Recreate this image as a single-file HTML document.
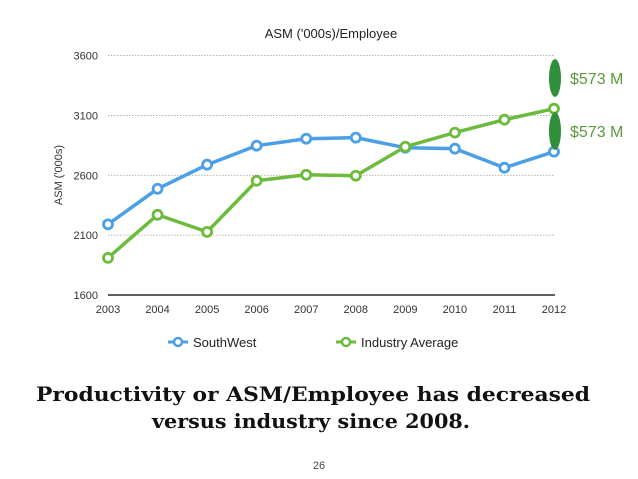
<!DOCTYPE html>
<html><head><meta charset="utf-8"><style>
body{margin:0;background:#fff;font-family:"Liberation Sans",sans-serif}
svg{display:block}
</style></head><body>
<svg width="638" height="479" viewBox="0 0 638 479">
<text x="331" y="38" font-size="13" text-anchor="middle" fill="#222">ASM ('000s)/Employee</text>
<text transform="translate(62,175) rotate(-90)" font-size="11" text-anchor="middle" fill="#333">ASM ('000s)</text>
<g id="grid"></g>
<g id="ylab"></g>
<g id="xlab"></g>
<line x1="108" y1="295" x2="555" y2="295" stroke="#000" stroke-width="1.2"/>
<g id="series"></g>
<ellipse cx="555" cy="78" rx="6" ry="19" fill="#2f8f3a"/>
<ellipse cx="555" cy="131" rx="6" ry="19" fill="#2f8f3a"/>
<text x="570" y="84" font-size="16" fill="#5a9a3a">$573 M</text>
<text x="570" y="137" font-size="16" fill="#5a9a3a">$573 M</text>
<g>
<line x1="168" y1="342" x2="188" y2="342" stroke="#4a9fe6" stroke-width="3"/>
<circle cx="178" cy="342" r="4" fill="#fff" stroke="#4a9fe6" stroke-width="2.5"/>
<text x="193" y="347" font-size="13" fill="#222">SouthWest</text></g>
<g>
<line x1="336" y1="342" x2="356" y2="342" stroke="#6cbb3c" stroke-width="3"/>
<circle cx="346" cy="342" r="4" fill="#fff" stroke="#6cbb3c" stroke-width="2.5"/>
<text x="361" y="347" font-size="13" fill="#222">Industry Average</text></g>
<text x="36" y="401" font-size="20" font-weight="bold" fill="#111" font-family="DejaVu Serif,serif" textLength="554" lengthAdjust="spacingAndGlyphs">Productivity or ASM/Employee has decreased</text>
<text x="152" y="428" font-size="20" font-weight="bold" fill="#111" font-family="DejaVu Serif,serif" textLength="318" lengthAdjust="spacingAndGlyphs">versus industry since 2008.</text>
<text x="319" y="469" font-size="11" text-anchor="middle" fill="#444">26</text>
</svg>
<script>
const years=[2003,2004,2005,2006,2007,2008,2009,2010,2011,2012];
const southwest=[2190,2487,2688,2847,2905,2914,2830,2822,2663,2797];
const industry=[1910,2270,2127,2554,2604,2596,2838,2956,3064,3156];
const yTicks=[1600,2100,2600,3100,3600];
const NS="http://www.w3.org/2000/svg";
const xs=i=>108+i*(554-108)/(years.length-1);
const ys=v=>295-(v-1600)*(295-55.5)/2000;
function mk(t,a,p){const e=document.createElementNS(NS,t);for(const k in a)e.setAttribute(k,a[k]);p.appendChild(e);return e;}
const grid=document.getElementById('grid'),ylab=document.getElementById('ylab'),xlab=document.getElementById('xlab'),ser=document.getElementById('series');
yTicks.forEach(v=>{
 if(v>1600){const l=mk('line',{x1:108,x2:555,y1:ys(v),y2:ys(v),stroke:'#999','stroke-dasharray':'1.5,1.5','stroke-width':0.8},grid);
 
 }
 const t=mk('text',{x:98,y:ys(v)+4,'font-size':11,'text-anchor':'end',fill:'#333'},ylab);t.textContent=v;
 
 
});
years.forEach((y,i)=>{const t=mk('text',{x:xs(i),y:313,'font-size':11,'text-anchor':'middle',fill:'#333'},xlab);t.textContent=y;
 
 });
function draw(vals,col,name){
 const p=mk('polyline',{points:vals.map((v,i)=>xs(i)+','+ys(v)).join(' '),fill:'none',stroke:col,'stroke-width':3.5,'stroke-linejoin':'round'},ser);
 
 
 vals.forEach((v,i)=>{const c=mk('circle',{cx:xs(i),cy:ys(v),r:4.5,fill:'#fff',stroke:col,'stroke-width':2.8},ser);
 
 });
}
draw(southwest,'#4a9fe6','southwest');
draw(industry,'#6cbb3c','industry-average');
</script>
</body></html>
